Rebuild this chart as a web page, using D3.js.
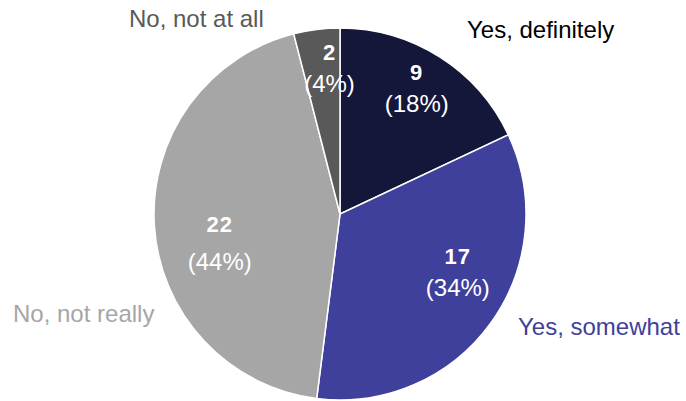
<!DOCTYPE html>
<html>
<head>
<meta charset="utf-8">
<script src="https://cdn.jsdelivr.net/npm/d3@7"></script>
<style>
  body { margin: 0; background: #fff; }
  svg { display: block; font-family: "Liberation Sans", Arial, sans-serif; }
</style>
</head>
<body>
<svg id="chart" width="686" height="401"></svg>
<script>
// data
const categories = ["Yes, definitely", "Yes, somewhat", "No, not really", "No, not at all"];
const counts = [9, 17, 22, 2];
const percents = [18, 34, 44, 4];
const colours = ["#14163a", "#3f3f9c", "#a6a6a6", "#595959"];
const nameColours = ["#000000", "#3f3f9c", "#a6a6a6", "#595959"];

const width = 686, height = 401;
const cx = 340, cy = 214, radius = 186;

const svg = d3.select("#chart");
const g = svg.append("g").attr("transform", `translate(${cx},${cy})`);

const pie = d3.pie().sort(null).value(d => d.count);
const arc = d3.arc().innerRadius(0).outerRadius(radius);
const labelArc = d3.arc().innerRadius(radius * 0.75).outerRadius(radius * 0.75);

const rows = categories.map((c, i) => ({ name: c, count: counts[i], pct: percents[i], i: i }));
const arcs = pie(rows);

g.selectAll("path.slice")
  .data(arcs)
  .enter()
  .append("path")
  .attr("class", "slice")
  .attr("d", arc)
  .attr("fill", d => colours[d.data.i])
  .attr("stroke", "#fff")
  .attr("stroke-width", 1.5);

// small nudges so the inner labels sit where the original puts them
const nudge = [[2, -8], [5, -24], [19, 20], [7, -8]];

const inner = g.selectAll("g.inlabel")
  .data(arcs)
  .enter()
  .append("g")
  .attr("class", "inlabel")
  .attr("transform", d => {
    const c = labelArc.centroid(d);
    const n = nudge[d.data.i];
    return `translate(${c[0] + n[0]},${c[1] + n[1]})`;
  });

inner.append("text")
  .attr("text-anchor", "middle")
  .attr("y", d => d.data.i == 2 ? -11 : -8)
  .attr("fill", "#fff")
  .style("font-size", "22px")
  .style("font-weight", "bold")
  .style("letter-spacing", "1px")
  .text(d => d.data.count);

inner.append("text")
  .attr("text-anchor", "middle")
  .attr("y", d => d.data.i == 2 ? 27 : 24)
  .attr("fill", "#fff")
  .style("font-size", "24px")
  .text(d => "(" + d.data.pct + "%)");

// category names outside the pie
const namePos = [[467, 38, "start"], [518, 335, "start"], [13, 322, "start"], [129, 27, "start"]];

svg.selectAll("text.name")
  .data(rows)
  .enter()
  .append("text")
  .attr("class", "name")
  .attr("x", d => namePos[d.i][0])
  .attr("y", d => namePos[d.i][1])
  .attr("text-anchor", d => namePos[d.i][2])
  .attr("fill", d => nameColours[d.i])
  .style("font-size", "24px")
  .text(d => d.name);
</script>
</body>
</html>
